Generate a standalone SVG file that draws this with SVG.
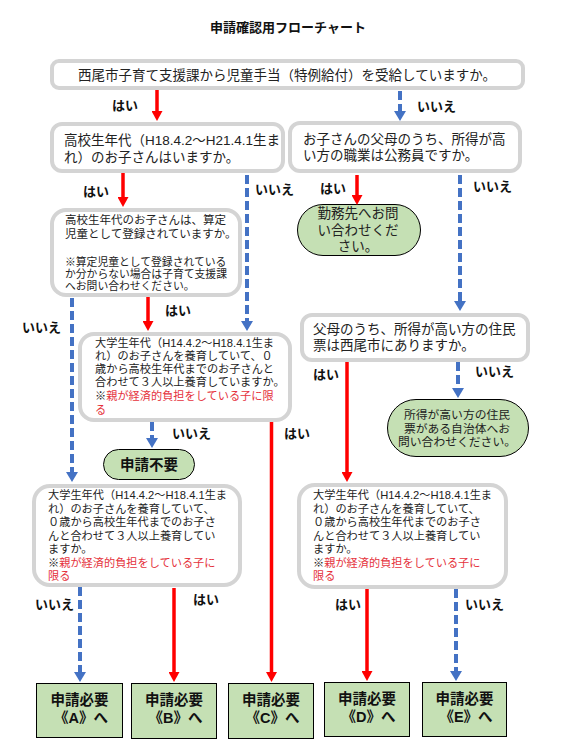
<svg xmlns="http://www.w3.org/2000/svg" width="565" height="753" viewBox="0 0 565 753">
<style>
text{font-family:"Liberation Sans","Noto Sans CJK JP",sans-serif;fill:#222}
.q{fill:#fff;stroke:#d4d4d4;stroke-width:4}
.pill{fill:#c5e0b4;stroke:#000;stroke-width:1}
.end{fill:#c5e0b4;stroke:#000;stroke-width:1}
.t135{font-size:13.5px}
.t11{font-size:11.2px}
.t108{font-size:10.8px}
.lab{font-size:13px;font-weight:bold;fill:#111}
.b{font-weight:bold;fill:#111}
.red{fill:#e5323c}
.yes{stroke:#ff0000;stroke-width:3.5;fill:none}
.no{stroke:#4472c4;stroke-width:4;fill:none;stroke-dasharray:9 4}
</style>
<defs>
<marker id="ar" markerUnits="userSpaceOnUse" markerWidth="11" markerHeight="11" refX="0" refY="5.5" orient="auto"><path d="M0,0 L10,5.5 L0,11 z" fill="#ff0000"/></marker>
<marker id="ab" markerUnits="userSpaceOnUse" markerWidth="12" markerHeight="12" refX="0" refY="6" orient="auto"><path d="M0,0 L10,6 L0,12 z" fill="#4472c4"/></marker>
</defs>
<rect width="565" height="753" fill="#fff"/>
<text x="288" y="32" text-anchor="middle" class="b" font-size="13">申請確認用フローチャート</text>

<g id="q1"><rect class="q" x="52" y="61" width="471" height="27" rx="7"/>
<text class="t135" x="287" y="80" text-anchor="middle">西尾市子育て支援課から児童手当（特例給付）を受給していますか。</text></g>

<g id="q2"><rect class="q" x="52" y="124" width="231" height="47" rx="10"/>
<text class="t135" x="64" y="145">高校生年代（H18.4.2～H21.4.1生ま</text>
<text class="t135" x="64" y="161.5">れ）のお子さんはいますか。</text></g>

<g id="q3"><rect class="q" x="290" y="123" width="230" height="48" rx="10"/>
<text class="t135" x="303" y="144">お子さんの父母のうち、所得が高</text>
<text class="t135" x="303" y="160">い方の職業は公務員ですか。</text></g>

<g id="q4"><rect class="q" x="52" y="210" width="188" height="85" rx="14"/>
<text x="65" y="224" font-size="11.5">高校生年代のお子さんは、算定</text>
<text x="65" y="238" font-size="11.5">児童として登録されていますか。</text>
<text class="t108" x="65" y="266">※算定児童として登録されている</text>
<text class="t108" x="65" y="277.5">か分からない場合は子育て支援課</text>
<text class="t108" x="65" y="290">へお問い合わせください。</text></g>

<g id="q5"><rect class="q" x="80" y="334" width="210" height="86" rx="14"/>
<text class="t11" x="95" y="347">大学生年代（H14.4.2～H18.4.1生ま</text>
<text class="t11" x="95" y="360">れ）のお子さんを養育していて、０</text>
<text class="t11" x="95" y="373">歳から高校生年代までのお子さんと</text>
<text class="t11" x="95" y="386">合わせて３人以上養育していますか。</text>
<text class="t11" x="95" y="400">※<tspan class="red">親が経済的負担をしている子に限</tspan></text>
<text class="t11 red" x="95" y="414">る</text></g>

<g id="q6"><rect class="q" x="302" y="315" width="226" height="45" rx="10"/>
<text class="t135" x="313" y="334">父母のうち、所得が高い方の住民</text>
<text class="t135" x="313" y="350">票は西尾市にありますか。</text></g>

<g id="q7"><rect class="q" x="34" y="486" width="206" height="99" rx="16"/>
<text class="t11" x="48" y="499">大学生年代（H14.4.2～H18.4.1生ま</text>
<text class="t11" x="48" y="512.5">れ）のお子さんを養育していて、</text>
<text class="t11" x="48" y="526">０歳から高校生年代までのお子さ</text>
<text class="t11" x="48" y="539.5">んと合わせて３人以上養育してい</text>
<text class="t11" x="48" y="553">ますか。</text>
<text class="t11" x="48" y="566.5">※<tspan class="red">親が経済的負担をしている子に</tspan></text>
<text class="t11 red" x="48" y="580">限る</text></g>

<g id="q8"><rect class="q" x="299" y="485" width="207" height="102" rx="16"/>
<text class="t11" x="313" y="499">大学生年代（H14.4.2～H18.4.1生ま</text>
<text class="t11" x="313" y="512.5">れ）のお子さんを養育していて、</text>
<text class="t11" x="313" y="526">０歳から高校生年代までのお子さ</text>
<text class="t11" x="313" y="539.5">んと合わせて３人以上養育してい</text>
<text class="t11" x="313" y="553">ますか。</text>
<text class="t11" x="313" y="566.5">※<tspan class="red">親が経済的負担をしている子に</tspan></text>
<text class="t11 red" x="313" y="580">限る</text></g>

<g id="p-kinmu"><rect class="pill" x="297.5" y="204.5" width="123" height="51" rx="25.5"/>
<text class="t135" x="358" y="218" text-anchor="middle">勤務先へお問</text>
<text class="t135" x="358" y="234.5" text-anchor="middle">い合わせくだ</text>
<text class="t135" x="358" y="251" text-anchor="middle">さい。</text></g>

<g id="p-jichitai"><rect class="pill" x="387.5" y="399.5" width="141" height="57" rx="28.5"/>
<text x="457" y="419" font-size="11.8" text-anchor="middle">所得が高い方の住民</text>
<text x="457" y="432.5" font-size="11.8" text-anchor="middle">票がある自治体へお</text>
<text x="457" y="446" font-size="11.8" text-anchor="middle">問い合わせください。</text></g>

<g id="p-fuyou"><rect class="pill" x="103.5" y="449.5" width="91" height="30" rx="15"/>
<text class="b" x="149" y="469.5" font-size="14.5" text-anchor="middle">申請不要</text></g>

<g id="endA"><rect class="end" x="36.5" y="683.5" width="86" height="54"/>
<text class="b" x="79.5" y="705" font-size="14.5" text-anchor="middle">申請必要</text>
<text class="b" x="81" y="723" font-size="14.5" text-anchor="middle">《A》へ</text></g>
<g id="endB"><rect class="end" x="131.5" y="683.5" width="85" height="55"/>
<text class="b" x="174" y="705" font-size="14.5" text-anchor="middle">申請必要</text>
<text class="b" x="175.5" y="723" font-size="14.5" text-anchor="middle">《B》へ</text></g>
<g id="endC"><rect class="end" x="228.5" y="683.5" width="85" height="55"/>
<text class="b" x="271" y="705" font-size="14.5" text-anchor="middle">申請必要</text>
<text class="b" x="272.5" y="723" font-size="14.5" text-anchor="middle">《C》へ</text></g>
<g id="endD"><rect class="end" x="324.5" y="682.5" width="85" height="54"/>
<text class="b" x="367" y="704" font-size="14.5" text-anchor="middle">申請必要</text>
<text class="b" x="368.5" y="722" font-size="14.5" text-anchor="middle">《D》へ</text></g>
<g id="endE"><rect class="end" x="422.5" y="682.5" width="84" height="54"/>
<text class="b" x="464.5" y="704" font-size="14.5" text-anchor="middle">申請必要</text>
<text class="b" x="466" y="722" font-size="14.5" text-anchor="middle">《E》へ</text></g>

<g id="connectors">
<path class="yes" d="M157,90 V111" marker-end="url(#ar)"/>
<path class="no" d="M400,91 V111" marker-end="url(#ab)"/>
<path class="yes" d="M123,173 V197" marker-end="url(#ar)"/>
<path class="no" d="M247,175 V321" marker-end="url(#ab)"/>
<path class="yes" d="M357,175 V195" marker-end="url(#ar)"/>
<path class="no" d="M460,175 V301" marker-end="url(#ab)"/>
<path class="no" d="M72,298 V472" marker-end="url(#ab)"/>
<path class="yes" d="M148,297 V321" marker-end="url(#ar)"/>
<path class="no" d="M152,422 V438" marker-end="url(#ab)"/>
<path class="yes" d="M271.5,422 V672" marker-end="url(#ar)"/>
<path class="yes" d="M347,362 V472" marker-end="url(#ar)"/>
<path class="no" d="M458,362 V388" marker-end="url(#ab)"/>
<path class="no" d="M80,587 V672" marker-end="url(#ab)"/>
<path class="yes" d="M174,588 V672" marker-end="url(#ar)"/>
<path class="yes" d="M367,589 V671" marker-end="url(#ar)"/>
<path class="no" d="M456,589 V671" marker-end="url(#ab)"/>
<text class="lab" x="112" y="110">はい</text>
<text class="lab" x="417" y="111">いいえ</text>
<text class="lab" x="83" y="196">はい</text>
<text class="lab" x="255" y="194">いいえ</text>
<text class="lab" x="320" y="193">はい</text>
<text class="lab" x="473" y="191">いいえ</text>
<text class="lab" x="22" y="332">いいえ</text>
<text class="lab" x="165" y="315">はい</text>
<text class="lab" x="172" y="438">いいえ</text>
<text class="lab" x="284" y="438">はい</text>
<text class="lab" x="313" y="379">はい</text>
<text class="lab" x="475" y="376">いいえ</text>
<text class="lab" x="35" y="609">いいえ</text>
<text class="lab" x="193" y="604">はい</text>
<text class="lab" x="335" y="609">はい</text>
<text class="lab" x="465" y="609">いいえ</text>
</g>
</svg>
